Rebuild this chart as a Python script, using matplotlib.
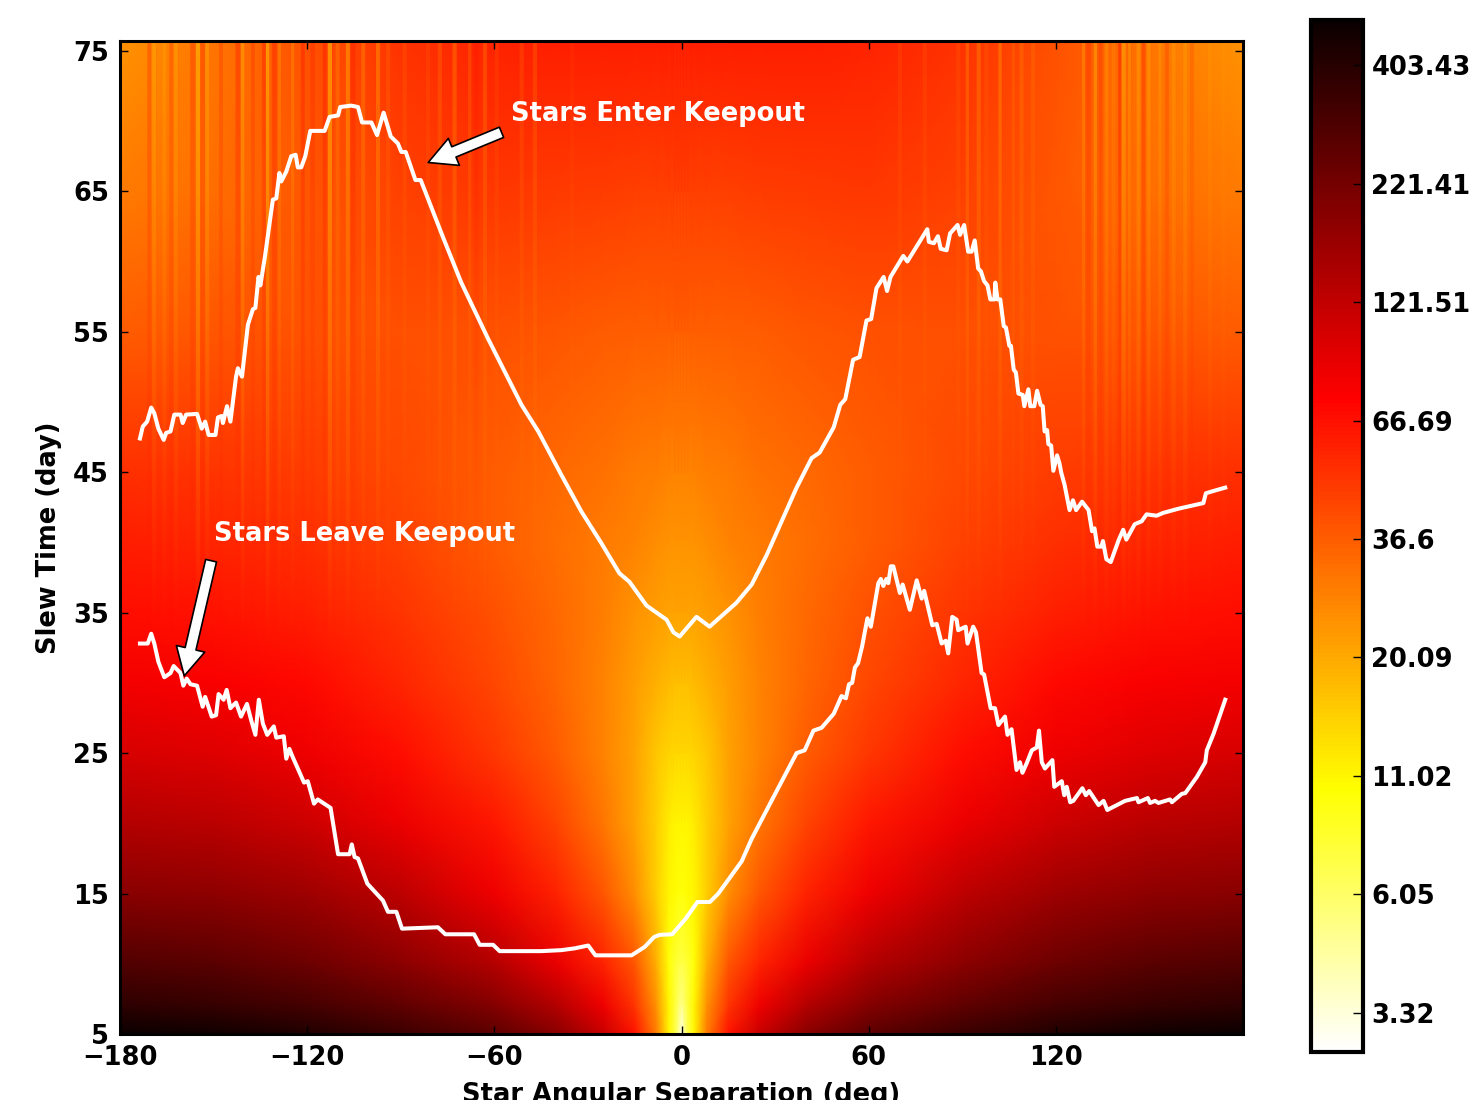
import numpy as np
import matplotlib
matplotlib.use('Agg')
import matplotlib.pyplot as plt
from matplotlib.colors import LogNorm

# Sampled map values, |separation| on x, slew time on y
sep_nodes = [0, 1, 2, 4, 8, 15, 25, 40, 60, 90, 120, 150, 180]
time_nodes = [5, 7, 10, 15, 20, 25, 30, 35, 40, 45, 55, 65, 76]
dv_rows = [
    [3, 5, 7, 11, 28, 65, 115, 190, 265, 350, 430, 480, 500],
    [5, 6, 7.5, 11, 24, 50, 85, 135, 195, 260, 320, 365, 385],
    [7, 7.5, 8, 10, 19, 38, 58, 88, 135, 185, 235, 270, 290],
    [10, 10, 10.5, 11, 15, 25, 38, 58, 85, 125, 160, 180, 190],
    [11, 11, 11, 12, 15, 21, 30, 44, 62, 86, 110, 128, 135],
    [14, 14, 14, 14.5, 16, 21, 27, 37, 49, 68, 85, 97, 103],
    [17, 17, 17, 17.5, 19, 22, 27, 34, 43, 56, 70, 78, 82],
    [21, 21, 21, 21, 22, 24, 28, 33, 40, 50, 59, 65, 68],
    [24, 24, 24, 24, 25, 27, 29, 32, 37, 45, 52, 56, 60],
    [27, 27, 27, 27, 28, 29, 31, 33, 37, 42, 47, 50, 52],
    [36, 36, 36, 36, 36, 36, 37, 38, 40, 41, 40, 38, 37],
    [46, 46, 46, 46, 46, 46, 47, 48, 49, 45, 38, 32, 29],
    [60, 60, 60, 60, 60, 60, 60, 60, 58, 51, 40, 30, 24],
]

# Vertical streaks near the top, + lighter, - darker
streak_sep = [-170.6, -169.0, -165.7, -163.6, -162.0, -156.7, -155.0, -153.5, -152.0, -147.6,
              -142.2, -140.6, -137.4, -133.7, -132.6, -130.5, -128.9, -124.6, -121.4, -118.2,
              -114.4, -112.8, -110.2, -107.0, -105.3, -102.0, -97.3, -94.0, -88.8, -81.3,
              -77.5, -72.7, -67.9, -65.7, -63.0, -59.3, -51.3, -47.0, -35.0, 70.0,
              78.0, 88.7, 91.6, 95.2, 97.8, 102.1, 106.4, 109.0, 112.8, 128.9,
              130.5, 132.6, 134.4, 136.3, 138.5, 140.6, 141.7, 143.6, 146.5, 148.1,
              149.7, 153.4, 155.6, 157.7, 161.5, 163.6, 169.5, 173.8]
streak_amp = [-0.25, 0.4, 0.3, -0.2, 0.35, -0.25, 0.7, -0.25, 0.45, -0.2,
              -0.3, 0.5, -0.2, -0.3, 0.7, -0.3, 0.3, 0.3, -0.3, -0.2,
              -0.3, 0.7, 0.25, 0.5, -0.25, 0.3, 0.4, 0.15, 0.12, 0.1,
              0.2, 0.3, 0.2, -0.15, 0.25, 0.1, 0.15, 0.2, 0.05, 0.1,
              0.1, 0.1, 0.3, 0.3, 0.1, 0.35, 0.15, 0.2, 0.15, 0.35,
              -0.2, 0.5, -0.2, 0.35, 0.2, -0.4, 0.5, 0.3, 0.4, -0.3,
              0.35, 0.3, -0.2, 0.3, 0.3, -0.15, 0.15, 0.1]

# Stars enter keepout
enter_sep = [-173.6, -172.7, -171.3, -170.0, -169.0, -167.7, -166.0, -165.2, -163.8, -162.6,
             -160.6, -159.9, -158.8, -155.3, -153.8, -152.7, -151.6, -149.4, -148.6, -147.4,
             -147.0, -145.7, -144.6, -142.8, -142.2, -140.9, -139.0, -137.4, -136.6, -135.6,
             -135.0, -133.5, -131.0, -129.9, -128.9, -128.3, -126.7, -125.1, -123.7, -123.0,
             -121.9, -120.6, -119.0, -114.4, -112.8, -110.1, -109.4, -105.9, -103.7, -102.4,
             -99.4, -97.6, -95.5, -93.2, -90.9, -89.8, -88.4, -85.3, -83.6, -76.4,
             -70.6, -62.0, -51.3, -45.9, -38.5, -32.1, -25.7, -19.9, -16.7, -11.2,
             -8.0, -4.8, -2.6, -0.6, 4.8, 9.0, 17.6, 22.5, 27.3, 33.7,
             36.9, 41.7, 44.3, 48.8, 50.9, 52.5, 55.0, 57.1, 59.3, 60.8,
             62.5, 64.8, 65.9, 67.0, 71.1, 72.4, 78.8, 79.3, 80.9, 82.2,
             83.1, 85.0, 86.1, 88.5, 89.3, 90.6, 91.9, 93.0, 94.0, 95.1,
             96.0, 97.0, 98.1, 99.0, 100.3, 100.6, 101.3, 102.2, 103.3, 104.0,
             105.1, 105.6, 106.5, 107.2, 108.0, 109.4, 109.9, 111.2, 111.8, 113.1,
             114.0, 115.1, 115.8, 116.4, 117.2, 117.6, 118.5, 119.2, 120.4, 121.2,
             121.7, 122.8, 124.4, 125.5, 126.5, 128.4, 130.5, 131.6, 132.4, 133.3,
             134.6, 135.1, 136.2, 137.6, 138.9, 140.2, 141.6, 142.6, 145.3, 147.5,
             149.1, 152.3, 154.4, 159.3, 167.3, 168.1, 171.1, 174.3]
enter_time = [47.4, 48.25, 48.6, 49.6, 49.2, 48.1, 47.3, 47.8, 47.9, 49.1,
              49.1, 48.5, 49.1, 49.15, 48.1, 48.6, 47.65, 47.65, 48.9, 49.0,
              48.5, 49.7, 48.6, 51.8, 52.4, 51.8, 55.5, 56.6, 56.7, 58.9,
              58.3, 60.4, 64.4, 64.5, 66.3, 65.7, 66.4, 67.5, 67.6, 66.7,
              66.7, 67.5, 69.3, 69.3, 70.3, 70.4, 71.0, 71.1, 71.0, 69.9,
              69.9, 69.0, 70.6, 68.9, 68.4, 67.8, 67.8, 65.8, 65.8, 61.7,
              58.5, 54.5, 49.8, 47.9, 44.8, 42.2, 39.95, 37.8, 37.2, 35.5,
              35.0, 34.5, 33.6, 33.3, 34.7, 34.0, 35.7, 37.0, 39.1, 42.3,
              43.9, 46.0, 46.4, 48.2, 49.8, 50.2, 53.0, 53.2, 55.8, 55.9,
              58.1, 58.9, 57.9, 58.9, 60.4, 60.0, 62.3, 61.4, 61.3, 61.8,
              60.9, 60.8, 62.0, 62.6, 61.9, 62.6, 60.7, 60.7, 61.5, 59.5,
              59.3, 58.6, 58.3, 57.3, 57.3, 58.5, 57.3, 57.3, 55.4, 55.3,
              54.0, 54.0, 52.3, 52.1, 50.6, 50.5, 49.7, 50.9, 49.7, 49.7,
              50.8, 49.8, 49.7, 47.9, 48.0, 47.0, 46.9, 45.1, 46.2, 45.6,
              45.0, 44.1, 42.3, 43.0, 42.3, 42.9, 42.3, 40.8, 41.0, 39.7,
              39.7, 40.1, 38.8, 38.6, 39.4, 40.2, 40.9, 40.2, 41.3, 41.5,
              42.0, 41.9, 42.1, 42.4, 42.8, 43.5, 43.7, 43.9]

# Stars leave keepout
leave_sep = [-173.6, -171.1, -170.0, -169.0, -167.7, -165.8, -163.8, -162.8, -160.6, -159.7,
             -158.6, -157.4, -155.3, -153.5, -152.7, -150.6, -149.2, -148.4, -146.8, -145.8,
             -144.6, -142.8, -141.2, -139.3, -137.9, -136.6, -135.5, -134.2, -132.8, -130.7,
             -129.9, -127.5, -126.7, -125.7, -124.6, -121.0, -119.8, -117.8, -116.6, -112.5,
             -110.1, -106.4, -105.7, -104.8, -103.7, -100.7, -95.7, -94.1, -91.4, -89.6,
             -78.1, -75.7, -66.5, -64.7, -60.4, -58.3, -44.9, -38.5, -34.2, -29.9,
             -27.6, -16.0, -11.8, -8.8, -7.0, -3.0, 1.3, 5.1, 9.1, 11.8,
             19.3, 22.5, 30.5, 36.9, 39.5, 42.3, 44.9, 48.8, 51.3, 52.7,
             53.7, 54.7, 55.6, 56.6, 57.9, 59.6, 60.7, 63.1, 63.9, 64.7,
             65.7, 66.3, 67.1, 67.9, 70.0, 70.9, 73.2, 75.4, 77.0, 77.8,
             80.4, 81.8, 83.4, 84.7, 85.5, 86.8, 88.2, 88.7, 91.1, 91.7,
             93.5, 94.4, 96.2, 97.0, 99.1, 100.5, 101.6, 103.7, 104.5, 105.8,
             107.4, 108.5, 109.3, 110.7, 112.3, 113.9, 114.6, 115.5, 116.5, 118.9,
             119.5, 121.9, 122.7, 123.5, 124.6, 125.6, 128.5, 129.6, 130.7, 133.7,
             135.3, 136.5, 142.2, 146.0, 146.5, 149.5, 150.2, 151.8, 152.9, 156.6,
             157.2, 160.4, 161.5, 165.2, 167.9, 168.4, 170.6, 174.3]
leave_time = [32.8, 32.8, 33.5, 32.8, 31.5, 30.4, 30.7, 31.2, 30.7, 29.8,
              30.3, 29.9, 29.8, 28.3, 29.0, 27.6, 27.7, 29.2, 28.8, 29.5,
              28.2, 28.6, 27.6, 28.5, 27.3, 26.3, 28.8, 27.1, 26.3, 26.9,
              26.1, 26.2, 24.6, 25.3, 24.7, 22.9, 23.0, 21.4, 21.7, 21.1,
              17.8, 17.8, 18.5, 17.6, 17.5, 15.7, 14.5, 13.7, 13.7, 12.5,
              12.6, 12.1, 12.1, 11.35, 11.35, 10.9, 10.9, 10.97, 11.1, 11.3,
              10.6, 10.6, 11.2, 11.9, 12.06, 12.1, 13.2, 14.4, 14.4, 15.0,
              17.3, 18.9, 22.3, 25.0, 25.2, 26.6, 26.8, 27.8, 29.06, 28.9,
              29.9, 30.0, 31.1, 31.4, 32.6, 34.6, 34.0, 37.1, 37.4, 36.9,
              37.4, 37.1, 38.3, 38.3, 36.4, 37.0, 35.2, 37.3, 36.0, 36.55,
              34.1, 34.2, 32.8, 33.0, 32.1, 34.7, 34.5, 33.75, 34.0, 32.8,
              34.0, 33.6, 30.7, 30.6, 28.2, 28.2, 27.0, 27.6, 26.3, 26.7,
              23.8, 24.35, 23.6, 24.3, 25.2, 25.4, 26.6, 24.35, 23.9, 24.5,
              22.6, 23.0, 22.0, 22.6, 21.5, 21.6, 22.5, 22.0, 22.3, 21.3,
              21.6, 20.95, 21.6, 21.8, 21.5, 21.8, 21.45, 21.6, 21.45, 21.7,
              21.5, 22.1, 22.15, 23.3, 24.35, 25.2, 26.4, 28.8]

x_ticks = [-180, -120, -60, 0, 60, 120]
y_ticks = [5, 15, 25, 35, 45, 55, 65, 75]
cbar_ticks = [3.32, 6.05, 11.02, 20.09, 36.6, 66.69, 121.51, 221.41, 403.43]
cbar_labels = ['3.32', '6.05', '11.02', '20.09', '36.6', '66.69', '121.51', '221.41', '403.43']

W, H = 1483, 1100
plt.rcParams['font.family'] = ['DejaVu Sans']
plt.rcParams['font.weight'] = 'bold'
plt.rcParams['axes.labelweight'] = 'bold'
plt.rcParams['font.size'] = 18.5

fig = plt.figure(figsize=(W / 100, H / 100), dpi=100)
ax = fig.add_axes([120 / W, 1 - 1034 / H, 1123 / W, 993 / H])
cax = fig.add_axes([1311 / W, 1 - 1052 / H, 52 / W, 1032 / H])

# mirror the half table around zero separation
half = np.array(dv_rows, dtype=float)
sep = np.array(sep_nodes, dtype=float)
x_full = np.concatenate([-sep[:0:-1], sep])
z_full = np.hstack([half[:, :0:-1], half])

norm = LogNorm(vmin=np.exp(1.0), vmax=np.exp(6.23))
mesh = ax.pcolormesh(x_full, time_nodes, z_full, shading='gouraud', cmap='hot_r', norm=norm)

# streak overlay, one column per quarter degree, fades out going down
cols = np.arange(-180, 180, 0.25)
streak_col = np.zeros(len(cols))
for s, a in zip(streak_sep, streak_amp):
    streak_col[np.abs(cols + 0.125 - s) <= 0.7] = a
fade = np.linspace(1, 0, 200) ** 1.2
overlay = np.zeros((200, len(cols), 4))
overlay[:, :, 0] = 1
overlay[:, :, 1] = np.where(streak_col > 0, 0.68, 0.0)
overlay[:, :, 3] = np.outer(fade, np.abs(streak_col))
ax.imshow(overlay, extent=(-180, 180, 32, 75.7), origin='upper', aspect='auto',
          interpolation='bilinear', zorder=1.5)

ax.plot(enter_sep, enter_time, color='white', lw=2.9, solid_joinstyle='round', zorder=3)
ax.plot(leave_sep, leave_time, color='white', lw=2.9, solid_joinstyle='round', zorder=3)

arrow = dict(facecolor='white', edgecolor='black', linewidth=1.2, width=8, headwidth=21, headlength=20, shrink=0)
ax.annotate('', xy=(-81.2, 67.05), xytext=(-57.7, 69.2), arrowprops=arrow, zorder=4)
ax.annotate('', xy=(-159.4, 30.5), xytext=(-150.8, 38.7), arrowprops=arrow, zorder=4)
ax.text(-54.5, 70.5, 'Stars Enter Keepout', color='white', va='center', ha='left', zorder=4)
ax.text(-149.8, 40.6, 'Stars Leave Keepout', color='white', va='center', ha='left', zorder=4)

ax.set_xlim(-180, 180)
ax.set_ylim(5, 75.7)
ax.set_xticks(x_ticks)
ax.set_yticks(y_ticks)
ax.tick_params(direction='in', top=True, right=True, length=6, width=1, pad=8)
ax.set_xlabel('Star Angular Separation (deg)', labelpad=7.5)
ax.set_ylabel('Slew Time (day)', labelpad=8)
for s in ax.spines.values():
    s.set_linewidth(2.2)

cb = fig.colorbar(mesh, cax=cax, ticks=cbar_ticks)
cb.minorticks_off()
cb.set_ticklabels(cbar_labels)
cb.outline.set_linewidth(3)
cax.tick_params(direction='in', length=7, width=1, pad=6)

fig.savefig('out.png', dpi=100)
